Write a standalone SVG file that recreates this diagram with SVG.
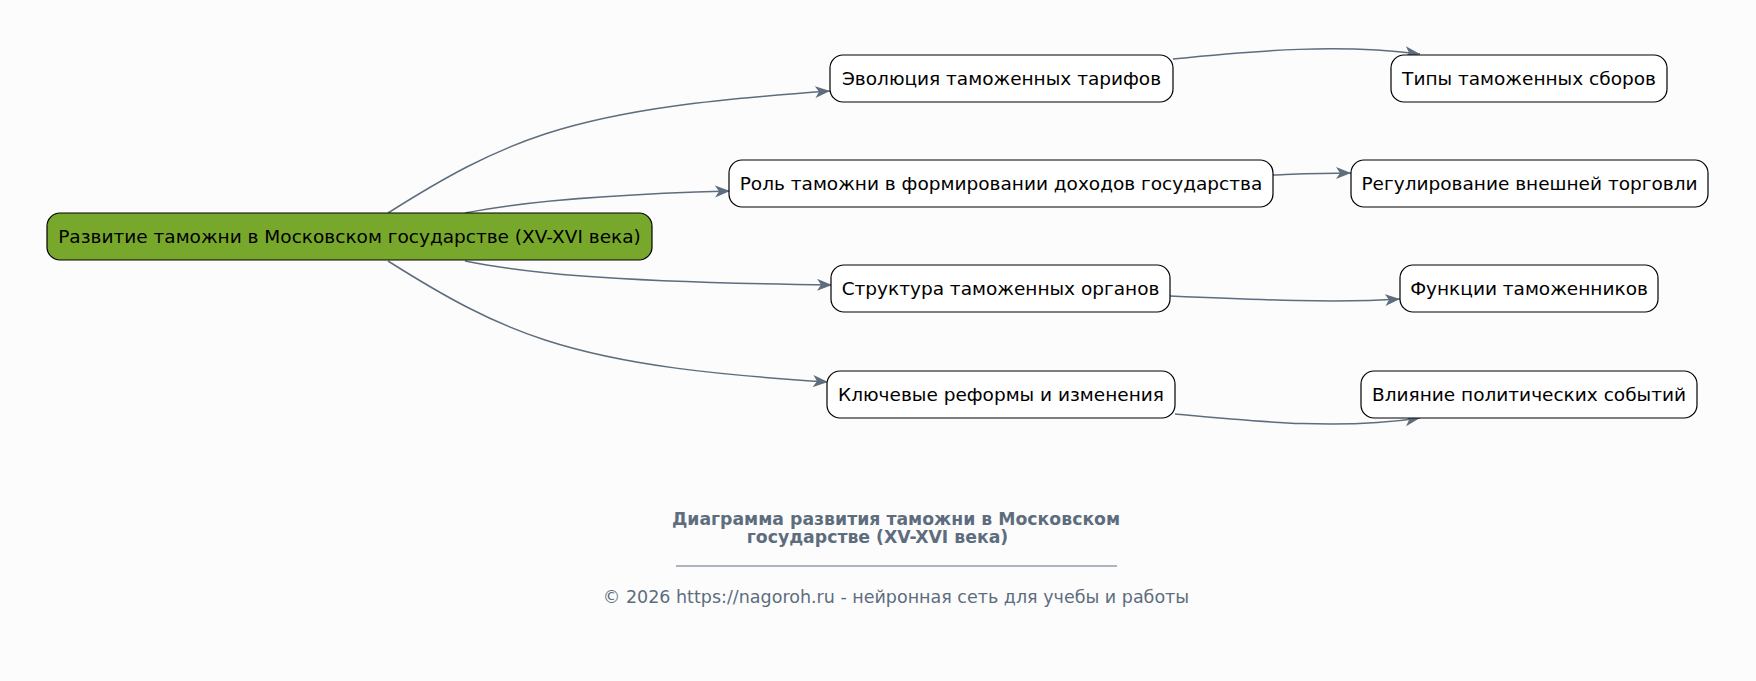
<svg xmlns="http://www.w3.org/2000/svg" width="1756" height="681" viewBox="0 0 1756 681">
<defs>
<style>
.n rect{fill:#ffffff;stroke:#000;stroke-width:1.2}
.n text{font-family:"DejaVu Sans",sans-serif;font-size:18.5px;fill:#000;text-anchor:middle}
#root rect{fill:#78a82b}
.e path{fill:none;stroke:#5d6d7e;stroke-width:1.5;marker-end:url(#arr)}
.t{font-family:"DejaVu Sans",sans-serif;fill:#5d6d7e;text-anchor:middle}
</style>
<marker id="arr" markerUnits="userSpaceOnUse" markerWidth="18" markerHeight="14" refX="15" refY="6" orient="auto">
<path d="M0,0 L15,6 L0,12 L4,6 z" fill="#5d6d7e"/>
</marker>
</defs>
<rect width="1756" height="681" fill="#fcfcfc"/>
<g class="e">
<path d="M388,213 C445,177 490,152 545,134 C625,108 720,99 830,91"/>
<path d="M465,213 C530,200 620,194 730,191"/>
<path d="M465,261 C520,272 600,282 832,285"/>
<path d="M388,261 C445,297 490,322 545,340 C625,366 720,375 828,382"/>
<path d="M1173,59 C1260,50 1340,44 1420,54"/>
<path d="M1273,175 C1300,174 1320,173 1351,173"/>
<path d="M1170,296 C1260,300 1340,303 1400,299"/>
<path d="M1175,414 C1260,422 1340,430 1420,418"/>
</g>
<g id="root" class="n"><rect x="47" y="213" width="605" height="47" rx="13"/><text x="349.5" y="243">Развитие таможни в Московском государстве (XV-XVI века)</text></g>
<g id="n1" class="n"><rect x="830" y="55" width="343" height="47" rx="13"/><text x="1001.5" y="85">Эволюция таможенных тарифов</text></g>
<g id="n2" class="n"><rect x="729" y="160" width="544" height="47" rx="13"/><text x="1001" y="190">Роль таможни в формировании доходов государства</text></g>
<g id="n3" class="n"><rect x="831" y="265" width="339" height="47" rx="13"/><text x="1000.5" y="295">Структура таможенных органов</text></g>
<g id="n4" class="n"><rect x="827" y="371" width="348" height="47" rx="13"/><text x="1001" y="401">Ключевые реформы и изменения</text></g>
<g id="n5" class="n"><rect x="1391" y="55" width="276" height="47" rx="13"/><text x="1529" y="85">Типы таможенных сборов</text></g>
<g id="n6" class="n"><rect x="1351" y="160" width="357" height="47" rx="13"/><text x="1529.5" y="190">Регулирование внешней торговли</text></g>
<g id="n7" class="n"><rect x="1400" y="265" width="258" height="47" rx="13"/><text x="1529" y="295">Функции таможенников</text></g>
<g id="n8" class="n"><rect x="1361" y="371" width="336" height="47" rx="13"/><text x="1529" y="401">Влияние политических событий</text></g>
<g id="title">
<text class="t" x="896" y="525" font-size="17.3" font-weight="bold">Диаграмма развития таможни в Московском</text>
<text class="t" x="877.5" y="543" font-size="17.3" font-weight="bold">государстве (XV-XVI века)</text>
<line x1="676" y1="566" x2="1117" y2="566" stroke="#5d6d7e" stroke-width="1"/>
<text class="t" x="896" y="603" font-size="17.5">© 2026 https://nagoroh.ru - нейронная сеть для учебы и работы</text>
</g>
</svg>
